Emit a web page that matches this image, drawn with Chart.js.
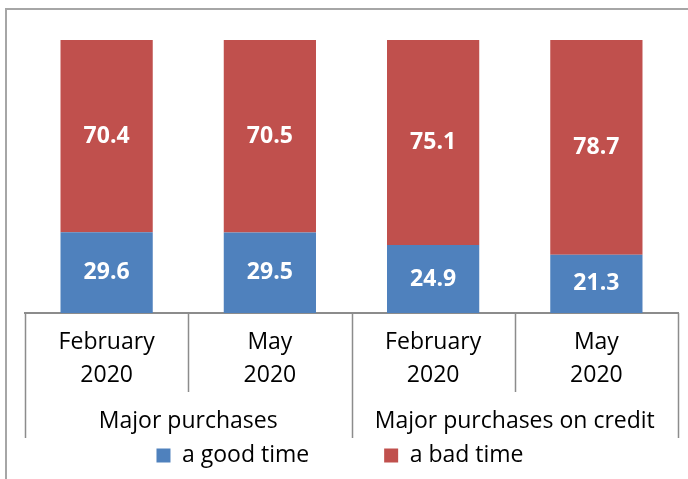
<!DOCTYPE html>
<html>
<head>
<meta charset="utf-8">
<script src="https://cdn.jsdelivr.net/npm/chart.js@4/dist/chart.umd.min.js"></script>
<style>
  html, body { margin: 0; padding: 0; background: #fff; overflow: hidden; }
  #frame { position: absolute; left: 5px; top: 8px; width: 720px; height: 520px; border: 2px solid #a6a6a6; }
  #wrap { position: absolute; left: 0; top: 0; width: 688px; height: 479px; }
</style>
</head>
<body>
<div id="frame"></div>
<div id="wrap"><canvas id="grafico" width="688" height="479"></canvas></div>
<script>
// categorias e valores
const periodos = [['February', '2020'], ['May', '2020'], ['February', '2020'], ['May', '2020']];
const grupos = ['Major purchases', 'Major purchases on credit'];
const bomMomento = [29.6, 29.5, 24.9, 21.3];
const mauMomento = [70.4, 70.5, 75.1, 78.7];
const nomesSeries = ['a good time', 'a bad time'];

const FONTE = '"Open Sans", Lato, sans-serif';
const CINZA = '#8c8c8c';

// escreve os valores no meio de cada segmento
const rotulosBarras = {
    id: 'rotulosBarras',
    afterDatasetsDraw(chart) {
        const ctx = chart.ctx;
        ctx.save();
        ctx.font = `bold 23px ${FONTE}`;
        ctx.fillStyle = '#fff';
        ctx.textAlign = 'center';
        ctx.textBaseline = 'middle';
        chart.data.datasets.forEach((ds, i) => {
            const meta = chart.getDatasetMeta(i);
            meta.data.forEach((bar, j) => {
                const y = (bar.y + bar.base) / 2;
                ctx.fillText(ds.data[j].toFixed(1), bar.x, y);
            });
        });
        ctx.restore();
    }
};

// linhas divisórias do eixo de duas categorias
const divisorias = {
    id: 'divisorias',
    afterDraw(chart) {
        const {x, grupo} = chart.scales;
        const ctx = chart.ctx;
        ctx.save();
        ctx.strokeStyle = CINZA;
        ctx.lineWidth = 1.5;
        ctx.beginPath();
        for (let i = 0; i <= periodos.length; i++) {
            const px = Math.round(x.getPixelForValue(i - 0.5)) + 0.5;
            ctx.moveTo(px, x.top);
            ctx.lineTo(px, x.bottom);
        }
        for (let i = 0; i <= grupos.length; i++) {
            const px = Math.round(grupo.getPixelForValue(i - 0.5)) + 0.5;
            ctx.moveTo(px, grupo.top);
            ctx.lineTo(px, grupo.bottom);
        }
        ctx.stroke();
        ctx.restore();
    }
};

const ctx = document.getElementById('grafico');
new Chart(ctx, {
    type: 'bar',
    data: {
        labels: periodos,
        datasets: [
            { label: nomesSeries[0], data: bomMomento, backgroundColor: '#4f81bd' },
            { label: nomesSeries[1], data: mauMomento, backgroundColor: '#c0504d' }
        ]
    },
    options: {
        responsive: false,
        animation: false,
        devicePixelRatio: 1,
        categoryPercentage: 1,
        barPercentage: 0.565,
        layout: { padding: { left: 25, right: 10, top: 40, bottom: 2 } },
        scales: {
            y: { stacked: true, min: 0, max: 100, display: false },
            x: {
                stacked: true,
                weight: 1,
                offset: true,
                grid: { display: false },
                border: { display: true, color: CINZA, width: 2 },
                afterFit(s) { s.height = 79; },
                ticks: {
                    color: '#000',
                    padding: 5,
                    maxRotation: 0,
                    autoSkip: false,
                    font: { family: FONTE, size: 23, lineHeight: 1.435 }
                }
            },
            grupo: {
                type: 'category',
                position: 'bottom',
                weight: 2,
                labels: grupos,
                offset: true,
                grid: { display: false },
                border: { display: false },
                afterFit(s) { s.height = 46; },
                ticks: {
                    color: '#000',
                    padding: 5,
                    maxRotation: 0,
                    autoSkip: false,
                    font: { family: FONTE, size: 23, lineHeight: 1.435 }
                }
            }
        },
        plugins: {
            tooltip: { enabled: false },
            legend: {
                position: 'bottom',
                labels: {
                    color: '#000',
                    boxWidth: 14,
                    boxHeight: 14,
                    padding: 6,
                    font: { family: FONTE, size: 23 },
                    generateLabels(chart) {
                        const itens = Chart.defaults.plugins.legend.labels.generateLabels(chart);
                        // espaço extra entre os itens como no original
                        itens[0].text = itens[0].text + '\u2003\u2003\u2003';
                        itens[1].text = itens[1].text + '\u2003';
                        itens.forEach(it => { it.lineWidth = 0; });
                        return itens;
                    }
                }
            }
        }
    },
    plugins: [rotulosBarras, divisorias]
});
</script>
</body>
</html>
